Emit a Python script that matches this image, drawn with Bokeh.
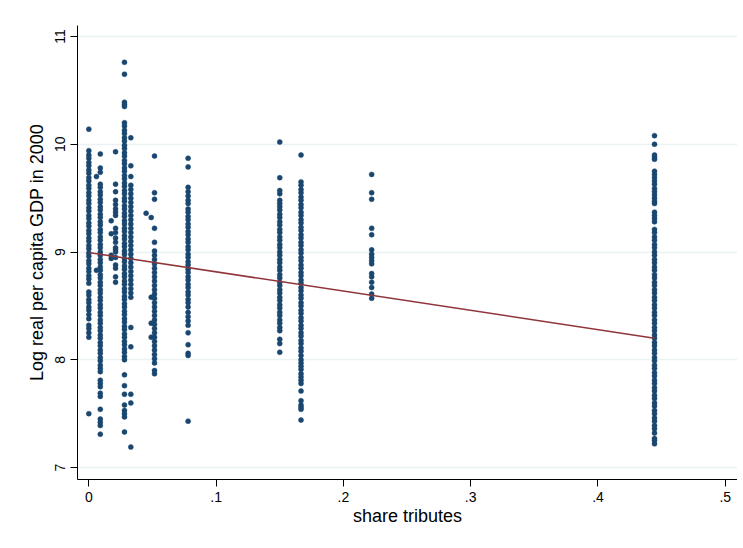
from bokeh.plotting import figure
from bokeh.models import FixedTicker, Range1d, ColumnDataSource
from bokeh.embed import file_html
from bokeh.resources import INLINE

# ---- data: x = share tributes, y = log real GDP per capita 2000 ----
x_tick_values = [0, 0.1, 0.2, 0.3, 0.4, 0.5]
x_tick_labels = ["0", ".1", ".2", ".3", ".4", ".5"]
y_tick_values = [7, 8, 9, 10, 11]

col_x = [0.0, 0.009, 0.006, 0.021, 0.0176, 0.028, 0.033, 0.0516, 0.045, 0.049,
         0.078, 0.15, 0.1667, 0.2222, 0.4444]

y_000 = [10.14, 9.94, 9.90, 9.87, 9.83, 9.80, 9.76, 9.73, 9.69, 9.66, 9.62, 9.59, 9.55, 9.52,
         9.48, 9.45, 9.41, 9.38, 9.34, 9.31, 9.27, 9.24, 9.20, 9.17, 9.13, 9.10, 9.06, 9.03,
         8.99, 8.96, 8.92, 8.89, 8.85, 8.82, 8.78, 8.75, 8.71, 8.63, 8.60, 8.56, 8.53, 8.49,
         8.46, 8.42, 8.38, 8.32, 8.29, 8.25, 8.21, 7.50]
y_009 = [9.91, 9.78, 9.74, 9.63, 9.60, 9.56, 9.53, 9.49, 9.46, 9.42, 9.39, 9.35, 9.32, 9.28,
         9.25, 9.21, 9.18, 9.14, 9.11, 9.07, 9.04, 9.00, 8.97, 8.93, 8.90, 8.86, 8.83, 8.79,
         8.76, 8.72, 8.69, 8.65, 8.62, 8.58, 8.55, 8.51, 8.48, 8.44, 8.41, 8.37, 8.34, 8.30,
         8.27, 8.23, 8.20, 8.16, 8.13, 8.09, 8.06, 8.02, 7.99, 7.95, 7.92, 7.89, 7.81, 7.78,
         7.75, 7.69, 7.66, 7.54, 7.45, 7.42, 7.39, 7.31]
y_006 = [9.70, 8.83]
y_021 = [9.93, 9.63, 9.56, 9.48, 9.44, 9.40, 9.37, 9.34, 9.22, 9.18, 9.13, 9.09, 9.04, 9.02,
         9.00, 8.95, 8.88, 8.85, 8.77, 8.72]
y_0176 = [9.29, 9.17, 8.97, 8.94]
y_028 = [10.76, 10.65, 10.39, 10.37, 10.35, 10.20, 10.17, 10.13, 10.10, 10.06, 10.03, 9.99,
         9.96, 9.92, 9.89, 9.85, 9.82, 9.78, 9.75, 9.71, 9.68, 9.64, 9.61, 9.57, 9.54, 9.50,
         9.47, 9.43, 9.40, 9.36, 9.33, 9.29, 9.26, 9.22, 9.19, 9.15, 9.12, 9.08, 9.05, 9.01,
         8.98, 8.94, 8.91, 8.87, 8.84, 8.80, 8.77, 8.73, 8.70, 8.66, 8.63, 8.59, 8.56, 8.52,
         8.49, 8.45, 8.42, 8.38, 8.35, 8.31, 8.28, 8.24, 8.21, 8.17, 8.14, 8.10, 8.07, 8.03,
         8.00, 7.86, 7.76, 7.68, 7.58, 7.53, 7.50, 7.47, 7.33]
y_033 = [10.06, 9.80, 9.70, 9.62, 9.58, 9.54, 9.50, 9.46, 9.42, 9.38, 9.34, 9.30, 9.26, 9.22,
         9.18, 9.14, 9.10, 9.06, 9.02, 8.98, 8.94, 8.90, 8.86, 8.82, 8.78, 8.74, 8.70, 8.66,
         8.62, 8.58, 8.30, 8.12, 7.68, 7.60, 7.19]
y_0516 = [9.89, 9.55, 9.49, 9.22, 9.09, 9.01, 8.97, 8.93, 8.89, 8.85, 8.81, 8.77, 8.73, 8.69,
          8.65, 8.61, 8.57, 8.53, 8.49, 8.45, 8.41, 8.37, 8.33, 8.29, 8.25, 8.21, 8.17, 8.13,
          8.09, 8.05, 8.01, 7.97, 7.90, 7.87]
y_045 = [9.36]
y_049 = [9.32, 8.58, 8.34, 8.21]
y_078 = [9.87, 9.79, 9.60, 9.56, 9.52, 9.48, 9.45, 9.40, 9.37, 9.33, 9.30, 9.26, 9.23, 9.19,
         9.16, 9.12, 9.09, 9.05, 9.02, 8.98, 8.95, 8.91, 8.88, 8.84, 8.81, 8.77, 8.74, 8.70,
         8.67, 8.63, 8.60, 8.56, 8.53, 8.49, 8.44, 8.40, 8.36, 8.32, 8.25, 8.14, 8.06, 8.04,
         7.43]
y_150 = [10.02, 9.69, 9.57, 9.54, 9.48, 9.45, 9.42, 9.39, 9.35, 9.32, 9.28, 9.25, 9.21, 9.18,
         9.14, 9.11, 9.07, 9.04, 9.00, 8.97, 8.93, 8.90, 8.86, 8.83, 8.79, 8.76, 8.72, 8.69,
         8.65, 8.62, 8.58, 8.55, 8.51, 8.48, 8.44, 8.41, 8.37, 8.34, 8.30, 8.27, 8.19, 8.15,
         8.07]
y_1667 = [9.90, 9.65, 9.62, 9.58, 9.55, 9.51, 9.48, 9.44, 9.41, 9.37, 9.34, 9.30, 9.27, 9.23,
          9.20, 9.16, 9.13, 9.09, 9.06, 9.02, 8.99, 8.95, 8.92, 8.88, 8.85, 8.81, 8.78, 8.74,
          8.71, 8.67, 8.64, 8.60, 8.57, 8.53, 8.50, 8.46, 8.43, 8.39, 8.36, 8.32, 8.29, 8.25,
          8.22, 8.18, 8.15, 8.11, 8.08, 8.04, 8.00, 7.97, 7.94, 7.91, 7.87, 7.84, 7.81, 7.78,
          7.71, 7.62, 7.58, 7.56, 7.54, 7.44]
y_2222 = [9.72, 9.55, 9.49, 9.22, 9.16, 9.02, 8.98, 8.95, 8.92, 8.89, 8.80, 8.77, 8.72, 8.67,
          8.61, 8.57]
y_4444 = [10.08, 10.00, 9.90, 9.88, 9.86, 9.75, 9.72, 9.69, 9.66, 9.63, 9.59, 9.56, 9.53,
          9.50, 9.47, 9.45, 9.37, 9.34, 9.31, 9.28, 9.21, 9.18, 9.14, 9.11, 9.07, 9.04, 9.00,
          8.97, 8.93, 8.90, 8.86, 8.83, 8.79, 8.76, 8.72, 8.69, 8.65, 8.62, 8.58, 8.55, 8.51,
          8.48, 8.44, 8.41, 8.37, 8.34, 8.30, 8.27, 8.23, 8.20, 8.16, 8.13, 8.09, 8.06, 8.02,
          7.99, 7.95, 7.92, 7.88, 7.85, 7.81, 7.78, 7.74, 7.71, 7.67, 7.64, 7.60, 7.57, 7.53,
          7.50, 7.46, 7.43, 7.39, 7.36, 7.32, 7.27, 7.25, 7.22]

col_y = [y_000, y_009, y_006, y_021, y_0176, y_028, y_033, y_0516, y_045, y_049,
         y_078, y_150, y_1667, y_2222, y_4444]

# linear fit line
fit_x = [0.0, 0.4444]
fit_y = [8.995, 8.20]

xs, ys = [], []
for cx, cy in zip(col_x, col_y):
    xs.extend([cx] * len(cy))
    ys.extend(cy)
src = ColumnDataSource(dict(x=xs, y=ys))

NAVY = "#1a476f"
MAROON = "#90353b"
FONT = "Liberation Sans"

p = figure(width=737, height=540, output_backend="svg", toolbar_location=None,
           x_range=Range1d(-0.0089, 0.5096), y_range=Range1d(6.889, 11.102),
           min_border_left=77, min_border_right=0, min_border_top=25, min_border_bottom=61)
p.outline_line_color = None
p.background_fill_color = "white"
p.border_fill_color = "white"

p.scatter("x", "y", source=src, size=5, fill_color=NAVY, line_color=NAVY, line_width=0.5)
p.line(fit_x, fit_y, line_color=MAROON, line_width=1.5)

p.xgrid.visible = False
p.ygrid.grid_line_color = "#eaf2f3"
p.ygrid.grid_line_width = 1.5
p.ygrid.ticker = FixedTicker(ticks=y_tick_values)

for ax in (p.xaxis[0], p.yaxis[0]):
    ax.axis_line_color = "black"
    ax.axis_line_width = 1
    ax.major_tick_line_color = "black"
    ax.major_tick_out = 7
    ax.major_tick_in = 0
    ax.minor_tick_line_color = None
    ax.major_label_text_font = FONT
    ax.major_label_text_font_size = "14px"
    ax.major_label_text_color = "black"
    ax.axis_label_text_font = FONT
    ax.axis_label_text_font_size = "18px"
    ax.axis_label_text_font_style = "normal"
    ax.axis_label_text_color = "black"

p.xaxis[0].ticker = FixedTicker(ticks=x_tick_values)
p.xaxis[0].major_label_overrides = {v: l for v, l in zip(x_tick_values, x_tick_labels)}
p.xaxis[0].axis_label = "share tributes"
p.xaxis[0].major_label_standoff = 5
p.xaxis[0].axis_label_standoff = 1

p.yaxis[0].ticker = FixedTicker(ticks=y_tick_values)
p.yaxis[0].major_label_orientation = "vertical"
p.yaxis[0].axis_label = "Log real per capita GDP in 2000"
p.yaxis[0].major_label_standoff = 5
p.yaxis[0].axis_label_standoff = 6

open("out.html", "w").write(file_html(p, INLINE))
